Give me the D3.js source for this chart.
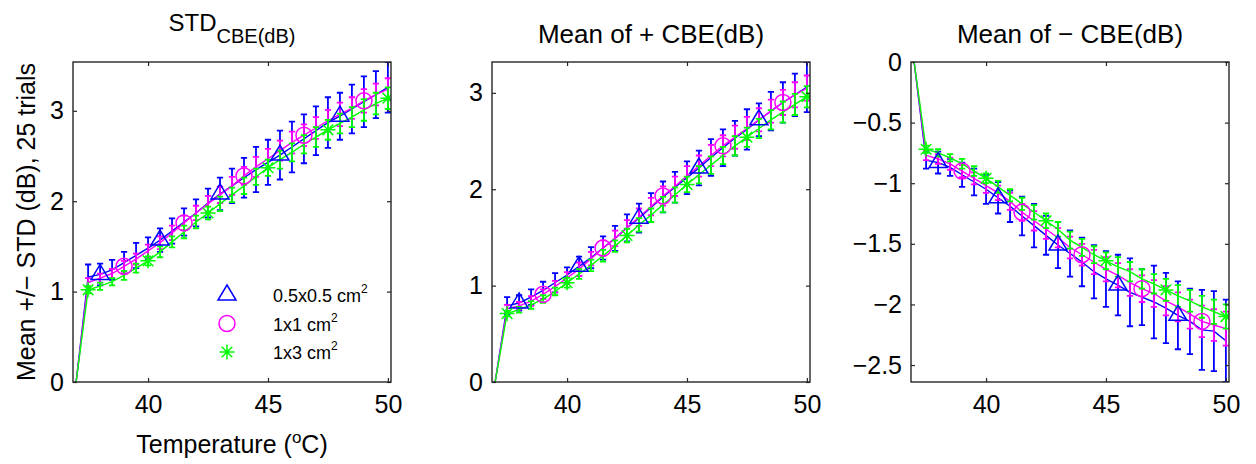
<!DOCTYPE html>
<html>
<head>
<meta charset="utf-8">
<script src="https://cdn.jsdelivr.net/npm/d3@7"></script>
<style>
  body { margin: 0; background: #fff; }
  text { font-family: "Liberation Sans", Arial, sans-serif; fill: #000; }
</style>
</head>
<body>
<svg id="chart" width="1256" height="464"></svg>
<script>
// temperatures (deg C), one sample every 0.5
const temps = [37, 37.5, 38, 38.5, 39, 39.5, 40, 40.5, 41, 41.5, 42, 42.5, 43, 43.5,
  44, 44.5, 45, 45.5, 46, 46.5, 47, 47.5, 48, 48.5, 49, 49.5, 50];
const xTicks = [40, 45, 50];
const sizes = ["0.5x0.5 cm", "1x1 cm", "1x3 cm"];

// panel 1 : STD of CBE
const std05 = [0, 1.16, 1.19, 1.24, 1.32, 1.40, 1.48, 1.57, 1.67, 1.77, 1.87, 1.98, 2.08, 2.17, 2.26, 2.35, 2.43, 2.51, 2.60, 2.69, 2.78, 2.87, 2.94, 3.02, 3.10, 3.18, 3.26];
const std05Err = [0, 0.14, 0.12, 0.11, 0.12, 0.14, 0.12, 0.13, 0.14, 0.15, 0.15, 0.16, 0.18, 0.19, 0.22, 0.25, 0.25, 0.27, 0.28, 0.27, 0.27, 0.28, 0.26, 0.27, 0.28, 0.26, 0.28];
const std11 = [0, 1.10, 1.15, 1.20, 1.28, 1.36, 1.45, 1.54, 1.65, 1.76, 1.87, 1.97, 2.07, 2.17, 2.28, 2.38, 2.47, 2.56, 2.65, 2.73, 2.81, 2.89, 2.96, 3.03, 3.11, 3.18, 3.24];
const std11Err = [0, 0.05, 0.05, 0.05, 0.06, 0.06, 0.07, 0.07, 0.08, 0.08, 0.08, 0.09, 0.09, 0.10, 0.10, 0.11, 0.11, 0.11, 0.12, 0.12, 0.12, 0.12, 0.13, 0.12, 0.13, 0.12, 0.12];
const std13 = [0, 1.02, 1.06, 1.11, 1.18, 1.26, 1.34, 1.44, 1.55, 1.66, 1.77, 1.87, 1.97, 2.07, 2.17, 2.27, 2.37, 2.46, 2.54, 2.63, 2.71, 2.79, 2.86, 2.93, 3.01, 3.08, 3.14];
const std13Err = [0, 0.04, 0.04, 0.04, 0.05, 0.05, 0.05, 0.06, 0.06, 0.07, 0.07, 0.07, 0.08, 0.08, 0.09, 0.09, 0.09, 0.10, 0.10, 0.10, 0.11, 0.11, 0.11, 0.11, 0.12, 0.12, 0.12];

// panel 2 : mean of + CBE
const pos05 = [0, 0.79, 0.82, 0.88, 0.95, 1.03, 1.11, 1.20, 1.29, 1.39, 1.49, 1.60, 1.70, 1.81, 1.92, 2.02, 2.12, 2.22, 2.33, 2.43, 2.53, 2.62, 2.72, 2.81, 2.90, 2.98, 3.06];
const pos05Err = [0, 0.09, 0.08, 0.08, 0.09, 0.10, 0.08, 0.10, 0.11, 0.12, 0.13, 0.14, 0.15, 0.15, 0.16, 0.16, 0.17, 0.18, 0.19, 0.19, 0.18, 0.21, 0.17, 0.20, 0.21, 0.22, 0.26];
const pos11 = [0, 0.76, 0.79, 0.84, 0.91, 0.99, 1.08, 1.17, 1.28, 1.39, 1.49, 1.60, 1.71, 1.82, 1.93, 2.03, 2.14, 2.24, 2.35, 2.45, 2.54, 2.63, 2.72, 2.81, 2.90, 2.98, 3.05];
const pos11Err = [0, 0.04, 0.04, 0.05, 0.05, 0.06, 0.06, 0.07, 0.07, 0.08, 0.08, 0.08, 0.09, 0.09, 0.10, 0.10, 0.10, 0.11, 0.11, 0.11, 0.12, 0.12, 0.12, 0.12, 0.13, 0.13, 0.13];
const pos13 = [0, 0.71, 0.75, 0.80, 0.86, 0.94, 1.03, 1.12, 1.21, 1.31, 1.41, 1.52, 1.63, 1.73, 1.84, 1.94, 2.05, 2.15, 2.25, 2.35, 2.45, 2.54, 2.63, 2.72, 2.80, 2.88, 2.96];
const pos13Err = [0, 0.03, 0.03, 0.04, 0.04, 0.04, 0.05, 0.05, 0.06, 0.06, 0.06, 0.07, 0.07, 0.07, 0.08, 0.08, 0.08, 0.09, 0.09, 0.09, 0.10, 0.10, 0.10, 0.10, 0.11, 0.11, 0.11];

// panel 3 : mean of - CBE
const neg05 = [0, -0.81, -0.83, -0.87, -0.93, -0.99, -1.05, -1.12, -1.19, -1.27, -1.35, -1.43, -1.51, -1.58, -1.65, -1.73, -1.79, -1.84, -1.90, -1.94, -1.98, -2.03, -2.09, -2.14, -2.21, -2.22, -2.30];
const neg05Err = [0, 0.07, 0.09, 0.07, 0.10, 0.11, 0.12, 0.13, 0.13, 0.16, 0.18, 0.16, 0.19, 0.19, 0.20, 0.22, 0.23, 0.25, 0.28, 0.23, 0.30, 0.29, 0.28, 0.27, 0.33, 0.33, 0.34];
const neg11 = [0, -0.77, -0.80, -0.84, -0.90, -0.96, -1.02, -1.08, -1.15, -1.24, -1.31, -1.38, -1.45, -1.53, -1.59, -1.65, -1.71, -1.76, -1.82, -1.87, -1.91, -1.97, -2.02, -2.08, -2.14, -2.17, -2.20];
const neg11Err = [0, 0.04, 0.04, 0.05, 0.05, 0.05, 0.06, 0.06, 0.07, 0.07, 0.08, 0.08, 0.08, 0.09, 0.09, 0.10, 0.10, 0.10, 0.11, 0.11, 0.11, 0.12, 0.12, 0.12, 0.13, 0.13, 0.14];
const neg13 = [0, -0.72, -0.75, -0.79, -0.84, -0.90, -0.96, -1.03, -1.10, -1.17, -1.24, -1.31, -1.38, -1.47, -1.53, -1.59, -1.64, -1.69, -1.73, -1.79, -1.83, -1.88, -1.93, -1.97, -2.02, -2.06, -2.10];
const neg13Err = [0, 0.03, 0.03, 0.03, 0.04, 0.04, 0.04, 0.05, 0.05, 0.05, 0.06, 0.06, 0.06, 0.07, 0.07, 0.07, 0.07, 0.08, 0.08, 0.08, 0.08, 0.09, 0.09, 0.09, 0.09, 0.10, 0.10];

// which samples carry a marker
const mark05 = [2, 7, 12, 17, 22];
const mark11 = [4, 9, 14, 19, 24];
const mark13 = [1, 6, 11, 16, 21, 26];

const colors = ["#0000ff", "#ff00ff", "#00ff00"];
const shapes = ["tri", "circle", "star"];

const panels = [
  { left: 73, yTicks: [0, 1, 2, 3], means: [std05, std11, std13], errs: [std05Err, std11Err, std13Err] },
  { left: 492, yTicks: [0, 1, 2, 3], means: [pos05, pos11, pos13], errs: [pos05Err, pos11Err, pos13Err] },
  { left: 911, yTicks: [0, -0.5, -1, -1.5, -2, -2.5], means: [neg05, neg11, neg13], errs: [neg05Err, neg11Err, neg13Err] }
];
const marks = [mark05, mark11, mark13];

const svg = d3.select("#chart");
const plotTop = 62, W = 318, H = 320;
const fs = 25;
const fmt = d => String(d).replace("-", "\u2212");

// old-style errorbar: cap half width is 1/100 of x range, and axis tight includes it
const tee = (d3.max(temps) - d3.min(temps)) / 100;

function drawMarker(g, shape, color, cx, cy) {
  if (shape === "tri") {
    g.append("path")
      .attr("d", `M${cx},${cy - 10}L${cx + 9},${cy + 5}L${cx - 9},${cy + 5}Z`)
      .attr("fill", "none").attr("stroke", color).attr("stroke-width", 1.5);
  } else if (shape === "circle") {
    g.append("circle").attr("cx", cx).attr("cy", cy).attr("r", 8)
      .attr("fill", "none").attr("stroke", color).attr("stroke-width", 1.5);
  } else {
    const r = 7.5, q = r * Math.SQRT1_2;
    g.append("path")
      .attr("d", `M${cx - r},${cy}H${cx + r}M${cx},${cy - r}V${cy + r}` +
        `M${cx - q},${cy - q}L${cx + q},${cy + q}M${cx - q},${cy + q}L${cx + q},${cy - q}`)
      .attr("fill", "none").attr("stroke", color).attr("stroke-width", 1.5);
  }
}

panels.forEach((p, pi) => {
  const x = d3.scaleLinear()
    .domain([d3.min(temps) - tee, d3.max(temps) + tee])
    .range([p.left, p.left + W]);
  const lo = d3.min(p.means, (m, si) => d3.min(m, (v, i) => v - p.errs[si][i]));
  const hi = d3.max(p.means, (m, si) => d3.max(m, (v, i) => v + p.errs[si][i]));
  const y = d3.scaleLinear().domain([lo, hi]).range([plotTop + H, plotTop]);

  const clipId = "clip" + pi;
  svg.append("clipPath").attr("id", clipId)
    .append("rect").attr("x", p.left).attr("y", plotTop).attr("width", W).attr("height", H);

  const plot = svg.append("g").attr("clip-path", `url(#${clipId})`);

  p.means.forEach((m, si) => {
    const e = p.errs[si];
    const g = plot.append("g");
    const line = d3.line().x((d, i) => x(temps[i])).y(d => y(d));
    g.append("path").datum(m).attr("d", line)
      .attr("fill", "none").attr("stroke", colors[si]).attr("stroke-width", 1.4);
    g.selectAll("path.bar").data(m.map((v, i) => ({ t: temps[i], v, e: e[i] })).filter(d => d.e > 0))
      .join("path").attr("class", "bar")
      .attr("d", d => {
        const x0 = x(d.t), xa = x(d.t - tee), xb = x(d.t + tee);
        const y0 = y(d.v - d.e), y1 = y(d.v + d.e);
        return `M${x0},${y0}V${y1}M${xa},${y0}H${xb}M${xa},${y1}H${xb}`;
      })
      .attr("fill", "none").attr("stroke", colors[si]).attr("stroke-width", 1.8);
  });

  p.means.forEach((m, si) => {
    const g = plot.append("g");
    marks[si].forEach(i => drawMarker(g, shapes[si], colors[si], x(temps[i]), y(m[i])));
  });

  // axes with inward ticks on all sides
  const bottom = svg.append("g").attr("transform", `translate(0,${plotTop + H})`)
    .call(d3.axisBottom(x).tickValues(xTicks).tickFormat(fmt).tickSizeInner(-4).tickSizeOuter(0).tickPadding(13));
  const leftAx = svg.append("g").attr("transform", `translate(${p.left},0)`)
    .call(d3.axisLeft(y).tickValues(p.yTicks).tickFormat(fmt).tickSizeInner(-4).tickSizeOuter(0).tickPadding(9));
  const topAx = svg.append("g").attr("transform", `translate(0,${plotTop})`)
    .call(d3.axisTop(x).tickValues(xTicks).tickFormat("").tickSizeInner(-4).tickSizeOuter(0));
  const rightAx = svg.append("g").attr("transform", `translate(${p.left + W},0)`)
    .call(d3.axisRight(y).tickValues(p.yTicks).tickFormat("").tickSizeInner(-4).tickSizeOuter(0));
  [bottom, leftAx, topAx, rightAx].forEach(a => {
    a.select(".domain").remove();
    a.selectAll("line").attr("stroke", "#262626").attr("stroke-width", 1.2);
    a.selectAll("text").attr("font-size", fs).attr("font-family", "Liberation Sans, Arial, sans-serif").attr("fill", "#000");
  });

  svg.append("rect").attr("x", p.left).attr("y", plotTop).attr("width", W).attr("height", H)
    .attr("fill", "none").attr("stroke", "#262626").attr("stroke-width", 1.4);

  const cx = p.left + W / 2;
  if (pi === 0) {
    const t = svg.append("text").attr("x", cx).attr("y", 31).attr("text-anchor", "middle");
    t.append("tspan").attr("font-size", 24).text("STD");
    t.append("tspan").attr("font-size", 20).attr("dy", 12).text("CBE(dB)");
  } else {
    svg.append("text").attr("x", cx).attr("y", 43).attr("text-anchor", "middle")
      .attr("font-size", 26).text(pi === 1 ? "Mean of + CBE(dB)" : "Mean of \u2212 CBE(dB)");
  }

  if (pi === 0) {
    const xl = svg.append("text").attr("x", cx).attr("y", 453).attr("text-anchor", "middle").attr("font-size", fs);
    xl.append("tspan").text("Temperature (");
    xl.append("tspan").attr("font-size", 17).attr("dy", -10).text("o");
    xl.append("tspan").attr("dy", 10).text("C)");

    svg.append("text").attr("transform", `translate(35,${plotTop + H / 2}) rotate(-90)`)
      .attr("text-anchor", "middle").attr("font-size", fs)
      .text("Mean +/\u2212 STD (dB), 25 trials");

    // legend
    const lg = svg.append("g");
    sizes.forEach((s, si) => {
      const ly = plotTop + 233 + si * 28.5;
      drawMarker(lg, shapes[si], colors[si], p.left + 154, ly);
      const tx = lg.append("text").attr("x", p.left + 200).attr("y", ly + 7).attr("font-size", 18);
      tx.append("tspan").text(s);
      tx.append("tspan").attr("font-size", 12).attr("dy", -9).text("2");
    });
  }
});
</script>
</body>
</html>
